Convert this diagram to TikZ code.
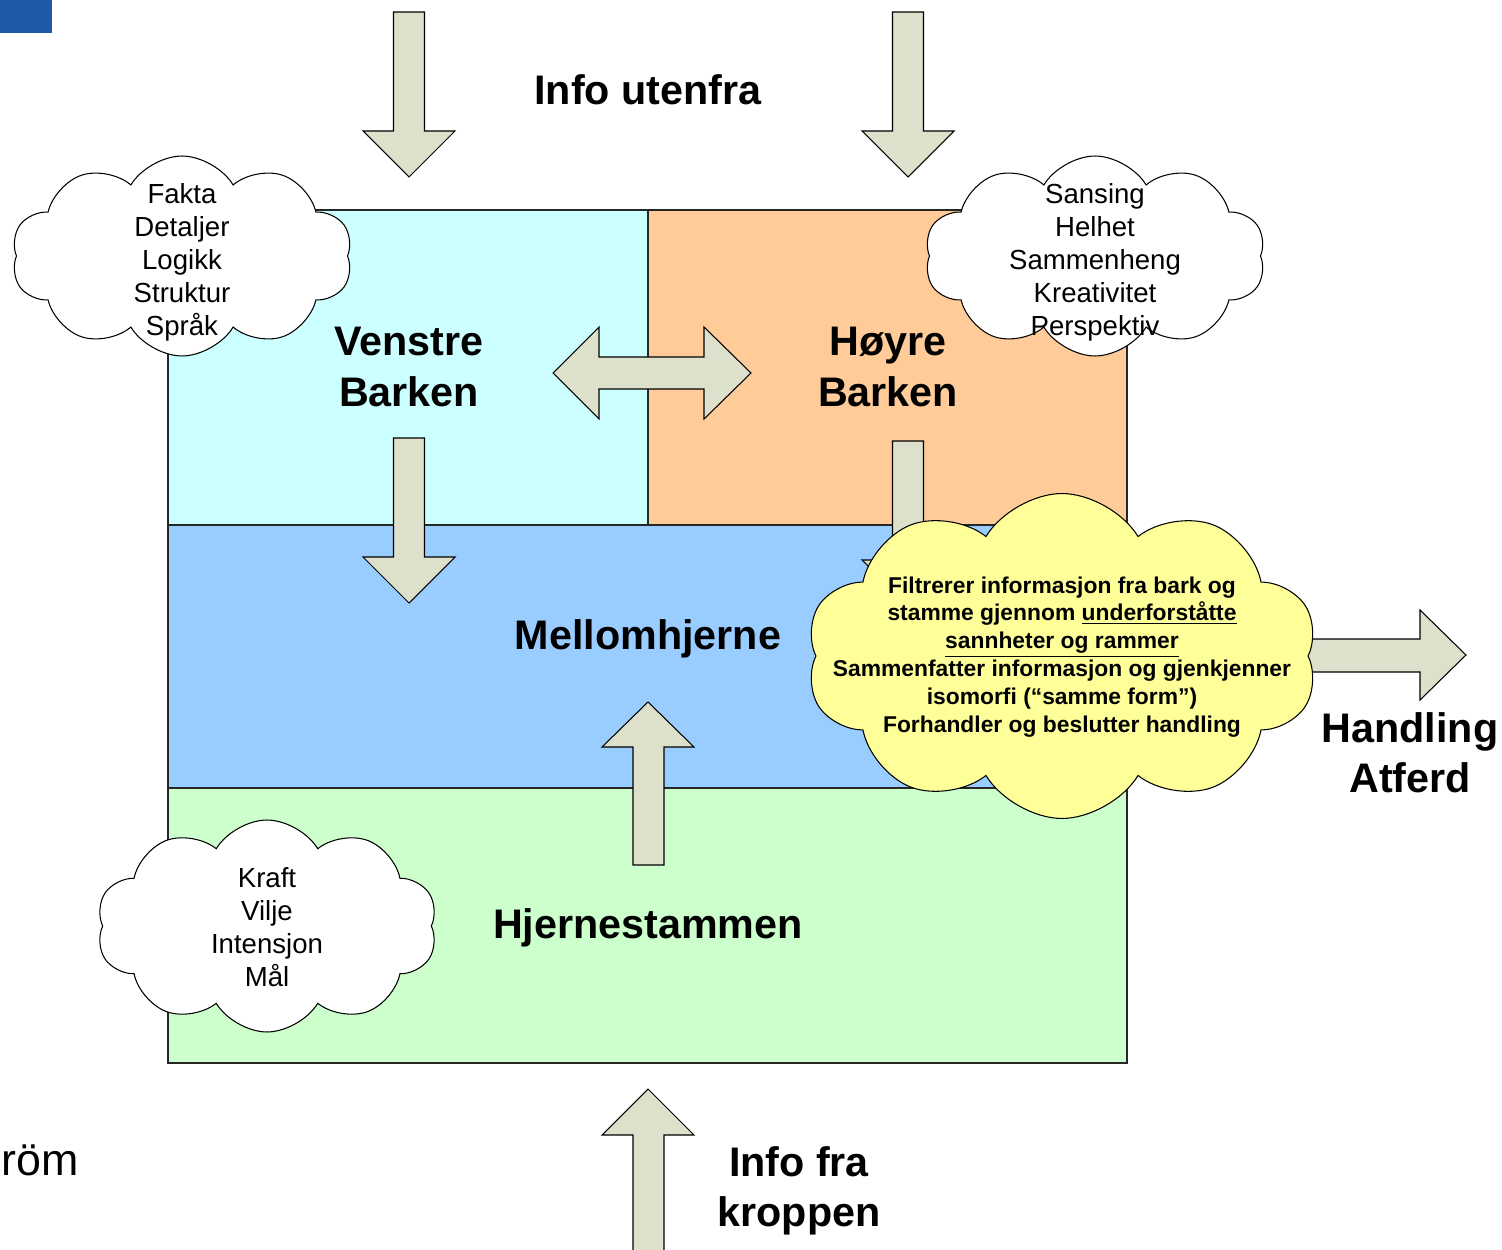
\documentclass[tikz,border=0pt]{standalone}
\usepackage{fontspec}
\setmainfont{Liberation Sans}
\usetikzlibrary{shapes.symbols}
\definecolor{leftcortex}{RGB}{204,255,255}
\definecolor{rightcortex}{RGB}{255,204,153}
\definecolor{midbrain}{RGB}{153,204,255}
\definecolor{brainstem}{RGB}{204,255,204}
\definecolor{arrowfill}{RGB}{221,224,202}
\definecolor{notefill}{RGB}{255,255,153}
\definecolor{cornerblue}{RGB}{31,90,168}
\tikzset{
	region/.style={draw=black!85, line width=0.6pt},
	blockarrow/.style={draw=black, fill=arrowfill, line width=0.6pt},
	bubble/.style={cloud, cloud puffs=10, cloud puff arc=118, cloud ignores aspect,
		draw=black, line width=0.6pt, fill=white, inner sep=0pt},
	bubbletext/.style={align=center, font=\fontsize{15.7}{18.8}\selectfont},
	notetext/.style={align=center, font=\fontsize{13}{15.9}\selectfont\bfseries},
	bigtext/.style={align=center, font=\fontsize{23.5}{28.5}\selectfont\bfseries}
}
\begin{document}
\begin{tikzpicture}[x=0.02cm, y=-0.02cm]
		\useasboundingbox (0,0) rectangle (1502,1250);
		\fill[cornerblue] (0,0) rectangle (52,33);
		% the four parts
		\draw[region, fill=leftcortex] (168,210) rectangle (648,525);
		\draw[region, fill=rightcortex] (648,210) rectangle (1127,525);
		\draw[region, fill=midbrain] (168,525) rectangle (1127,788);
		\draw[region, fill=brainstem] (168,788) rectangle (1127,1063);
		% down arrows
		\foreach \cx/\t in {409/12, 908/12, 409/438, 908/441}
			\draw[blockarrow] (\cx-15.5,\t) -- (\cx+15.5,\t) -- (\cx+15.5,\t+119) -- (\cx+46,\t+119)
				-- (\cx,\t+165) -- (\cx-46,\t+119) -- (\cx-15.5,\t+119) -- cycle;
		% up arrows
		\draw[blockarrow] (633,865) -- (664,865) -- (664,747) -- (694,747) -- (648,702)
			-- (602,747) -- (633,747) -- cycle;
		\draw[blockarrow] (633,1256) -- (664,1256) -- (664,1135) -- (694,1135) -- (648,1089)
			-- (602,1135) -- (633,1135) -- cycle;
		% between the two halves
		\draw[blockarrow] (553,373) -- (599,327) -- (599,357) -- (704,357) -- (704,327) -- (751,373)
			-- (704,419) -- (704,389) -- (599,389) -- (599,419) -- cycle;
		% out to the right
		\draw[blockarrow] (1290,639) -- (1420,639) -- (1420,610) -- (1466,655) -- (1420,700)
			-- (1420,672) -- (1290,672) -- cycle;
		% clouds
		\node[bubble, minimum width=6.82cm, minimum height=4cm] (leftcloud) at (182,256) {};
		\node[bubbletext] (lefttraits) at (182,262) {Fakta\\Detaljer\\Logikk\\Struktur\\Språk};
		\node[bubble, minimum width=6.82cm, minimum height=4cm] (rightcloud) at (1095,256) {};
		\node[bubbletext] (righttraits) at (1095,262) {Sansing\\Helhet\\Sammenheng\\Kreativitet\\Perspektiv};
		\node[bubble, minimum width=6.82cm, minimum height=4.24cm] (stemcloud) at (267,926) {};
		\node[bubbletext] (stemtraits) at (267,927) {Kraft\\Vilje\\Intensjon\\Mål};
		\node[bubble, fill=notefill, minimum width=10.24cm, minimum height=6.5cm] (notecloud) at (1062,656) {};
		\node[notetext] (note) at (1062,657) {Filtrerer informasjon fra bark og\\
			stamme gjennom \underline{underforståtte}\\ \underline{sannheter og rammer}\\
			Sammenfatter informasjon og gjenkjenner\\ isomorfi (“samme form”)\\
			Forhandler og beslutter handling};
		% labels
		\node[bigtext] (outside) at (648,90) {Info utenfra};
		\node[bigtext] (venstre) at (409,367) {Venstre\\Barken};
		\node[bigtext] (hoyre) at (888,367) {Høyre\\Barken};
		\node[bigtext] (mellom) at (648,639) {Mellomhjerne};
		\node[bigtext] (stamme) at (648,928) {Hjernestammen};
		\node[bigtext] (body) at (799,1191) {Info fra\\kroppen};
		\node[bigtext] (action) at (1410,753) {Handling\\Atferd};
		\node[anchor=base west, inner sep=0pt, font=\fontsize{25.5}{30}\selectfont] (strom) at (1,1175) {röm};
\end{tikzpicture}
\end{document}
